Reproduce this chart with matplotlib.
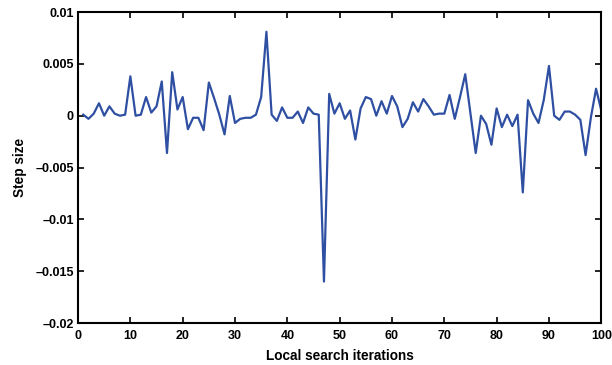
import matplotlib
matplotlib.use("Agg")
import matplotlib.pyplot as plt
import numpy as np

# step size taken at each local search iteration
iterations = np.arange(1, 101)
step_size = [
    0.0001, -0.0003, 0.0002, 0.0012, 0.0000, 0.0009, 0.0002, 0.0000, 0.0001, 0.0038,
    0.0000, 0.0001, 0.0018, 0.0003, 0.0009, 0.0033, -0.0036, 0.0042, 0.0006, 0.0018,
    -0.0013, -0.0002, -0.0002, -0.0014, 0.0032, 0.0017, 0.0001, -0.0018, 0.0019, -0.0007,
    -0.0003, -0.0002, -0.0002, 0.0001, 0.0018, 0.0081, 0.0001, -0.0005, 0.0008, -0.0002,
    -0.0002, 0.0004, -0.0007, 0.0008, 0.0002, 0.0001, -0.0160, 0.0021, 0.0002, 0.0012,
    -0.0003, 0.0005, -0.0023, 0.0007, 0.0018, 0.0016, 0.0000, 0.0014, 0.0002, 0.0019,
    0.0009, -0.0011, -0.0003, 0.0013, 0.0004, 0.0016, 0.0009, 0.0001, 0.0002, 0.0002,
    0.0020, -0.0003, 0.0018, 0.0040, 0.0002, -0.0036, 0.0000, -0.0008, -0.0028, 0.0007,
    -0.0011, 0.0001, -0.0010, 0.0001, -0.0074, 0.0015, 0.0002, -0.0007, 0.0015, 0.0048,
    0.0000, -0.0004, 0.0004, 0.0004, 0.0001, -0.0004, -0.0038, -0.0002, 0.0026, 0.0005,
]

x_ticks = list(range(0, 101, 10))
y_ticks = [0.01, 0.005, 0, -0.005, -0.01, -0.015, -0.02]
y_tick_labels = ["0.01", "0.005", "0", "\u20130.005", "\u20130.01", "\u20130.015", "\u20130.02"]

plt.rcParams["font.family"] = ["Liberation Sans", "DejaVu Sans"]
plt.rcParams["font.weight"] = "bold"

fig = plt.figure(figsize=(6.12, 3.65), dpi=100)
ax = fig.add_axes([0.1275, 0.115, 0.855, 0.852])

ax.plot(iterations, step_size, color="#2E4FA2", linewidth=1.6)

ax.set_xlim(0, 100)
ax.set_ylim(-0.02, 0.01)
ax.set_xticks(x_ticks)
ax.set_xticklabels([str(t) for t in x_ticks], fontsize=9, fontweight="bold")
ax.set_yticks(y_ticks)
ax.set_yticklabels(y_tick_labels, fontsize=9, fontweight="bold")

ax.tick_params(direction="in", top=True, right=True, length=4, width=1.2)
ax.tick_params(axis="x", pad=5)
ax.tick_params(axis="y", pad=3)
for spine in ax.spines.values():
    spine.set_linewidth(1.5)

ax.set_xlabel("Local search iterations", fontsize=9.8, fontweight="bold", labelpad=5)
ax.set_ylabel("Step size", fontsize=9.8, fontweight="bold", labelpad=6)

fig.savefig("out.png", dpi=100)
plt.close(fig)
